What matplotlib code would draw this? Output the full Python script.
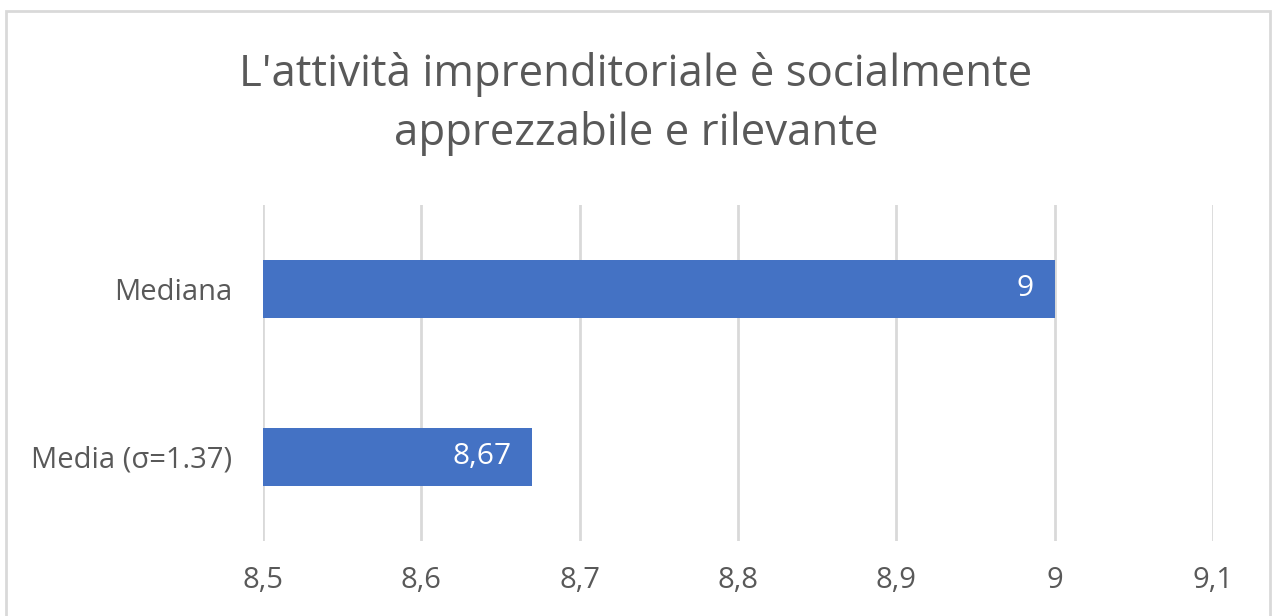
import matplotlib.pyplot as plt
from matplotlib.patches import Rectangle
from matplotlib.ticker import FuncFormatter

plt.rcParams['font.family'] = ['Open Sans', 'DejaVu Sans']

# Scores on the statement, shown bottom to top
categories = ['Media (σ=1.37)', 'Mediana']
values = [8.67, 9.0]
value_labels = ['8,67', '9']
x_ticks = [8.5, 8.6, 8.7, 8.8, 8.9, 9.0, 9.1]

title = "L'attività imprenditoriale è socialmente\napprezzabile e rilevante"

bar_color = '#4472C4'
text_color = '#595959'
grid_color = '#D9D9D9'

W, H = 1272, 616
fig = plt.figure(figsize=(W / 100, H / 100), dpi=100)
ax = fig.add_axes([263 / W, 75 / H, 950 / W, 336 / H])

base = x_ticks[0]
ypos = range(len(categories))
bars = ax.barh(ypos, [v - base for v in values], left=base, height=0.35,
               color=bar_color, zorder=3)

# value labels sit inside the bar, near its end
for rect, lab in zip(bars, value_labels):
    ax.annotate(lab, (rect.get_x() + rect.get_width(), rect.get_y() + rect.get_height() / 2),
                xytext=(-15, 0), textcoords='offset points',
                ha='right', va='center', color='white', fontsize=21.5, zorder=4)

ax.set_xlim(x_ticks[0], x_ticks[-1])
ax.set_ylim(-0.5, 1.5)
ax.set_xticks(x_ticks)
ax.xaxis.set_major_formatter(FuncFormatter(lambda v, p: f'{v:g}'.replace('.', ',')))
ax.set_yticks(list(ypos))
ax.set_yticklabels(categories)
ax.tick_params(axis='both', length=0, labelsize=21, colors=text_color)
ax.tick_params(axis='x', pad=18)
ax.tick_params(axis='y', pad=22)
ax.grid(axis='x', color=grid_color, linewidth=2, zorder=0)
for s in ax.spines.values():
    s.set_visible(False)

fig.text(0.5, 1 - 104 / H, title, ha='center', va='center', fontsize=31.5,
         color=text_color, linespacing=1.4)

# Light chart frame
fig.patches.append(Rectangle((6 / W, -0.05), (1270 - 6) / W, 1.05 - 11 / H,
                             transform=fig.transFigure, fill=False,
                             edgecolor=grid_color, linewidth=2))

fig.savefig('out.png', dpi=100)
